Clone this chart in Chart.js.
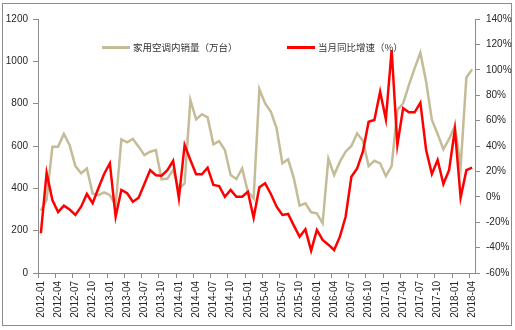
<!DOCTYPE html>
<html>
<head>
<meta charset="utf-8">
<script src="https://cdn.jsdelivr.net/npm/chart.js@4"></script>
<style>
  html, body { margin: 0; padding: 0; background: #fff; }
  #wrap { position: relative; width: 515px; height: 330px; }
  #frame { position: absolute; left: 2px; top: 3px; width: 510px; height: 323px; box-sizing: border-box; border: 1px solid #8c8c8c; }
  #c { position: absolute; left: 0; top: 0; }
  .lg { position: absolute; top: 41px; height: 13px; font: 9.5px "Noto Sans CJK SC", sans-serif; color: #333; line-height: 13px; white-space: nowrap; }
  .lg i { display: inline-block; width: 28px; height: 3px; vertical-align: middle; margin-right: 3px; position: relative; top: -1px; }
</style>
</head>
<body>
<div id="wrap">
  <div id="frame"></div>
  <canvas id="c" width="515" height="330"></canvas>
  <div class="lg" style="left:102px"><i style="background:#c4bc96"></i>家用空调内销量（万台）</div>
  <div class="lg" style="left:287px"><i style="background:#ff0000"></i>当月同比增速（%）</div>
</div>
<script>
// 2012-01 ~ 2018-04, monthly
var months = [];
for (var y = 2012; y <= 2018; y++) {
  for (var m = 1; m <= 12; m++) {
    if (y === 2018 && m > 4) break;
    months.push(y + "-" + (m < 10 ? "0" + m : m));
  }
}

// 家用空调内销量（万台）
var sales = [
  295, 345, 597, 597, 657, 604, 505, 471, 494, 376, 368, 381,
  368, 320, 631, 617, 633, 597, 557, 573, 581, 442, 446, 487,
  395, 424, 817, 726, 750, 735, 608, 623, 581, 463, 444, 494,
  384, 353, 868, 801, 762, 683, 518, 537, 447, 318, 329, 287,
  282, 235, 540, 463, 526, 573, 600, 660, 625, 505, 530, 518,
  458, 505, 770, 801, 888, 967, 1041, 904, 723, 657, 584, 633,
  694, 502, 924, 962
];

// 当月同比增速（%）
var yoy = [
  -28.7, 19, -2.5, -12, -7, -10, -14.3, -7.8, 2.2, -5, 6.7, 18,
  26.4, -15.7, 5.4, 2.8, -3.9, -0.7, 10, 21, 17, 16.6, 21, 28.4,
  -1, 40.8, 29, 17.7, 17.7, 22.9, 9.3, 8.5, 0, 5.4, 0, 0,
  4, -16.5, 7.5, 10.6, 2.2, -7.8, -14.3, -13.5, -22.7, -31.4, -25.6, -42.4,
  -26.1, -34, -37.7, -41.9, -31.4, -15.7, 15.8, 22.4, 35.5, 59.1, 60.5, 82.8,
  61, 115.6, 40.8, 69.7, 66.5, 66.5, 74.1, 36.9, 18, 29, 10.1, 21.1,
  53.1, -0.7, 21, 22.9
];

var axisGray = "#8c8c8c";
var tickFont = { family: "'Liberation Sans', Arial, sans-serif", size: 10 };

new Chart(document.getElementById("c"), {
  type: "line",
  data: {
    labels: months,
    datasets: [
      { label: "家用空调内销量（万台）", data: sales, yAxisID: "y", borderColor: "#c4bc96", borderWidth: 2.5, pointRadius: 0, tension: 0, order: 2 },
      { label: "当月同比增速（%）", data: yoy, yAxisID: "y1", borderColor: "#ff0000", borderWidth: 2.5, pointRadius: 0, tension: 0, order: 1 }
    ]
  },
  options: {
    responsive: false,
    animation: false,
    layout: { padding: { top: 19 } },
    plugins: { legend: { display: false }, tooltip: { enabled: false } },
    scales: {
      x: {
        offset: true,
        grid: {
          offset: true, drawOnChartArea: false, tickLength: 5,
          tickColor: function (ctx) { return ctx.index % 3 === 0 ? axisGray : "rgba(0,0,0,0)"; }
        },
        border: { color: axisGray, width: 1 },
        ticks: {
          autoSkip: false, maxRotation: 90, minRotation: 90, padding: 3,
          color: "#262626", font: tickFont,
          callback: function (v, i) { return i % 3 === 0 ? months[i] : ""; }
        },
        afterFit: function (s) { s.height = 57; }
      },
      y: {
        position: "left", min: 0, max: 1200,
        grid: { drawOnChartArea: false, tickLength: 5, tickColor: axisGray },
        border: { color: axisGray, width: 1 },
        ticks: { stepSize: 200, padding: 5, color: "#262626", font: tickFont,
          callback: function (v) { return String(v); } },
        afterFit: function (s) { s.width = 38; }
      },
      y1: {
        position: "right", min: -60, max: 140,
        grid: { drawOnChartArea: false, tickLength: 5, tickColor: axisGray },
        border: { color: axisGray, width: 1 },
        ticks: { stepSize: 20, padding: 6, color: "#262626", font: tickFont,
          callback: function (v) { return v + "%"; } },
        afterFit: function (s) { s.width = 40; }
      }
    }
  }
});
</script>
</body>
</html>
